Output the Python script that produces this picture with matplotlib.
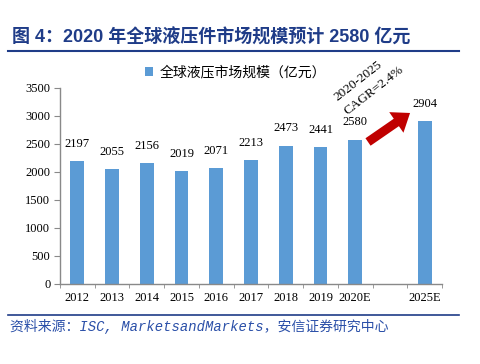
import matplotlib
matplotlib.use("Agg")
import matplotlib.pyplot as plt
from matplotlib.lines import Line2D

plt.rcParams['font.family'] = ['Liberation Serif', 'Noto Sans CJK SC']

years = ['2012', '2013', '2014', '2015', '2016', '2017', '2018', '2019', '2020E', '2025E']
values = [2197, 2055, 2156, 2019, 2071, 2213, 2473, 2441, 2580, 2904]
positions = [0, 1, 2, 3, 4, 5, 6, 7, 8, 10]
yticks = [0, 500, 1000, 1500, 2000, 2500, 3000, 3500]

title = '图 4：2020 年全球液压件市场规模预计 2580 亿元'
legend_label = '全球液压市场规模（亿元）'
source = '资料来源：ISC, MarketsandMarkets，安信证券研究中心'
cagr_text = '2020-2025\nCAGR=2.4%'

fig = plt.figure(figsize=(4.8, 3.64), dpi=100)
ax = fig.add_axes([60/480, 1-284/364, 382/480, 196/364])

bar_color = '#5B9BD5'
ax.bar(positions, values, width=0.4, color=bar_color, label=legend_label)
for p, v in zip(positions, values):
    ax.annotate(str(v), (p, v), xytext=(0, 8), textcoords='offset points',
                ha='center', va='bottom', fontsize=9, family='Liberation Serif')

ax.set_xlim(-0.5, 10.5)
ax.set_ylim(0, 3500)
ax.set_yticks(yticks)
ax.set_yticklabels([str(t) for t in yticks], fontsize=9)
ax.set_xticks(positions)
ax.set_xticklabels(years, fontsize=9)
ax.set_xticks([i - 0.5 for i in range(12)], minor=True)
ax.tick_params(axis='x', which='major', length=0, pad=6)
ax.tick_params(axis='x', which='minor', length=3, color='#898989', direction='out')
ax.tick_params(axis='y', length=4, color='#898989', direction='out', pad=3)
for s in ['top', 'right']:
    ax.spines[s].set_visible(False)
for s in ['left', 'bottom']:
    ax.spines[s].set_color('#898989')
    ax.spines[s].set_linewidth(1)

ax.legend(loc='upper center', bbox_to_anchor=(0.46, 1.18), frameon=False,
          prop={'family': ['Noto Sans CJK SC'], 'size': 10},
          handlelength=0.6, handleheight=0.6, handletextpad=0.5)

# arrow
ax.annotate('', xy=(9.58, 3054), xytext=(8.37, 2536), annotation_clip=False,
            arrowprops=dict(arrowstyle='simple,head_width=1.8,head_length=1.2,tail_width=0.65',
                            color='#C00000', lw=0, mutation_scale=10, shrinkA=0, shrinkB=0))
ax.text(8.4, 3580, cagr_text, rotation=38, ha='center', va='center', fontsize=9.5,
        linespacing=1.6, multialignment='left', family='Liberation Serif',
        rotation_mode='anchor', clip_on=False)

title_color = '#1F3C88'
fig.text(12/480, 1-37/364, title, fontsize=13, fontweight='bold', color=title_color,
         family=['Liberation Sans', 'Noto Sans CJK SC'], va='center', ha='left')
fig.add_artist(Line2D([8/480, 459/480], [1-51/364, 1-51/364], color=title_color, lw=1.5))
fig.add_artist(Line2D([8/480, 459/480], [1-315/364, 1-315/364], color=title_color, lw=1.2))
fig.text(10/480, 1-326/364, source, fontsize=10, style='italic', color='#2A4FA8',
         family=['Liberation Mono', 'Noto Sans CJK SC'], va='center', ha='left')

fig.savefig('out.png', dpi=100)
